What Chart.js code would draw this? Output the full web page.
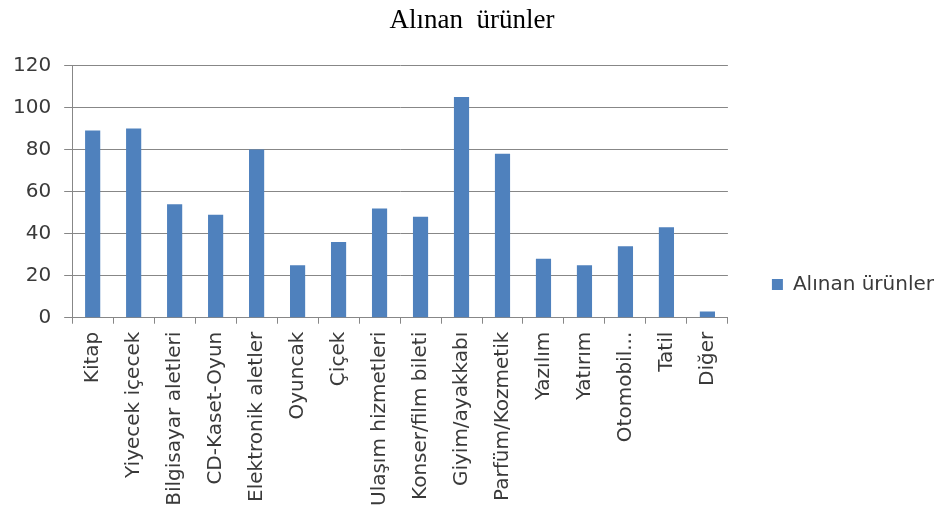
<!DOCTYPE html>
<html>
<head>
<meta charset="utf-8">
<script src="https://cdn.jsdelivr.net/npm/chart.js@4"></script>
<style>
  html, body { margin: 0; padding: 0; background: #fff; }
  #wrap { width: 944px; height: 519px; }
</style>
</head>
<body>
<div id="wrap"><canvas id="chart"></canvas></div>
<script>
const categories = ['Kitap', 'Yiyecek içecek', 'Bilgisayar aletleri', 'CD-Kaset-Oyun',
    'Elektronik aletler', 'Oyuncak', 'Çiçek', 'Ulaşım hizmetleri', 'Konser/film bileti',
    'Giyim/ayakkabı', 'Parfüm/Kozmetik', 'Yazılım', 'Yatırım', 'Otomobil...', 'Tatil', 'Diğer'];
const purchased = [89, 90, 54, 49, 80, 25, 36, 52, 48, 105, 78, 28, 25, 34, 43, 3];
const yTicks = [0, 20, 40, 60, 80, 100, 120];

const gridGray = '#878787';
const textGray = '#3a3a3a';

new Chart(document.getElementById('chart'), {
    type: 'bar',
    data: {
        labels: categories,
        datasets: [{
            label: 'Alınan ürünler',
            data: purchased,
            backgroundColor: '#4f81bd',
            borderWidth: 0,
            categoryPercentage: 1,
            barPercentage: 0.37
        }]
    },
    options: {
        responsive: true,
        maintainAspectRatio: false,
        animation: false,
        layout: { padding: { left: 0, right: 0, top: 1, bottom: 5 } },
        plugins: {
            title: {
                display: true,
                text: 'Alınan  ürünler',
                color: '#000',
                font: { family: 'Liberation Serif', size: 27, weight: 'normal' },
                padding: { top: 4, bottom: 28 }
            },
            legend: {
                position: 'right',
                maxWidth: 200,
                // blank legend title only nudges the entry down to where Excel put it
                title: {
                    display: true,
                    text: ' ',
                    font: { size: 10 },
                    padding: { top: 21, bottom: 21 }
                },
                labels: {
                    boxWidth: 11,
                    boxHeight: 11,
                    color: textGray,
                    font: { family: 'DejaVu Sans', size: 20 }
                }
            },
            tooltip: { enabled: false }
        },
        scales: {
            x: {
                grid: {
                    offset: true,
                    drawOnChartArea: false,
                    drawTicks: true,
                    tickLength: 6,
                    color: gridGray
                },
                border: { display: true, color: gridGray },
                ticks: {
                    color: textGray,
                    font: { family: 'DejaVu Sans', size: 20 },
                    minRotation: 90,
                    maxRotation: 90,
                    autoSkip: false,
                    padding: 8
                }
            },
            y: {
                min: 0,
                max: 120,
                afterBuildTicks: scale => {
                    scale.ticks = yTicks.map(v => ({ value: v }));
                },
                grid: { color: gridGray, tickLength: 8 },
                border: { display: true, color: gridGray },
                ticks: {
                    color: textGray,
                    font: { family: 'DejaVu Sans', size: 20 },
                    padding: 13
                }
            },
            gap: {
                type: 'linear',
                position: 'right',
                grid: { display: false },
                border: { display: false },
                ticks: { display: false },
                afterFit: scale => { scale.width = 34; }
            }
        }
    }
});
</script>
</body>
</html>
